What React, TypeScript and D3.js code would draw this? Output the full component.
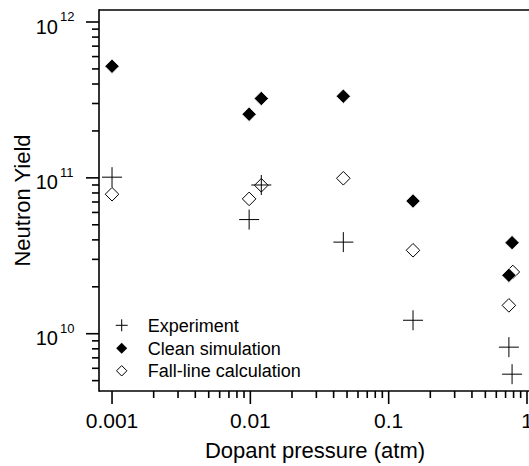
import React from "react";
import * as d3 from "d3";

const W = 529;
const H = 466;

// Data (pressure in atm, neutron yield)
const expX = [0.001, 0.0098, 0.012, 0.047, 0.15, 0.74, 0.78];
const expY = [1.01e11, 5.4e10, 9.0e10, 3.87e10, 1.22e10, 8.2e9, 5.5e9];

const cleanX = [0.001, 0.0098, 0.012, 0.047, 0.15, 0.78, 0.74];
const cleanY = [5.2e11, 2.56e11, 3.23e11, 3.34e11, 7.1e10, 3.84e10, 2.37e10];

const fallX = [0.001, 0.0098, 0.012, 0.047, 0.15, 0.79, 0.74];
const fallY = [7.85e10, 7.33e10, 8.96e10, 9.94e10, 3.43e10, 2.49e10, 1.52e10];

const xTickValues = [0.001, 0.01, 0.1, 1];
const xTickLabels = ["0.001", "0.01", "0.1", "1"];
const yTickValues = [1e10, 1e11, 1e12];
const yTickExponents = ["10", "11", "12"];

const legendLabels = ["Experiment", "Clean simulation", "Fall-line calculation"];

const xTitle = "Dopant pressure (atm)";
const yTitle = "Neutron Yield";

const FONT = "Liberation Sans, Arial, Helvetica, sans-serif";

export default function App() {
  const left = 99;
  const right = 531;
  const top = 10;
  const bottom = 391;

  const x = d3.scaleLog().domain([0.000805, 1.069]).range([left, right]);
  const y = d3.scaleLog().domain([4.29e9, 1.194e12]).range([bottom, top]);

  const xTicks = x.ticks().filter((t) => t >= 0.001 * 0.999 && t <= 1.0001);
  const yTicks = y.ticks().filter((t) => t <= 1e12 * 1.001);
  const isMajor = (t: number) => Math.abs(Math.log10(t) - Math.round(Math.log10(t))) < 1e-6;

  const plus = (cx: number, cy: number, r: number, key: string) => (
    <g key={key} stroke="#000" strokeWidth={1}>
      <line x1={cx - r} x2={cx + r} y1={cy} y2={cy} />
      <line x1={cx} x2={cx} y1={cy - r} y2={cy + r} />
    </g>
  );
  const diamond = (cx: number, cy: number, r: number) =>
    `M${cx},${cy - r}L${cx + r},${cy}L${cx},${cy + r}L${cx - r},${cy}Z`;

  const legendY = [325.3, 348.2, 370.8];
  const legMX = 121.7;
  const legTX = 147.7;

  return (
    <svg
      width={W}
      height={H}
      style={{ position: "absolute", left: 0, top: 0, background: "#fff" }}
      fontFamily={FONT}
    >
      <rect x={0} y={0} width={W} height={H} fill="#fff" />
      {/* frame */}
      <line x1={left} x2={right} y1={top} y2={top} stroke="#000" strokeWidth={1.6} />
      <line x1={right} x2={right} y1={top} y2={bottom} stroke="#000" strokeWidth={1.6} />
      <line x1={left} x2={left} y1={top - 0.8} y2={bottom + 0.8} stroke="#000" strokeWidth={1.6} />
      <line x1={left} x2={right} y1={bottom} y2={bottom} stroke="#000" strokeWidth={1.6} />

      {/* x ticks */}
      {xTicks.map((t, i) => (
        <line
          key={"xt" + i}
          x1={x(t)}
          x2={x(t)}
          y1={bottom}
          y2={bottom + (isMajor(t) ? 13 : 7)}
          stroke="#000"
          strokeWidth={1.6}
        />
      ))}
      {xTickValues.map((t, i) => (
        <text key={"xl" + i} x={x(t)} y={428} fontSize={21} textAnchor="middle" fill="#000">
          {xTickLabels[i]}
        </text>
      ))}

      {/* y ticks */}
      {yTicks.map((t, i) => (
        <line
          key={"yt" + i}
          x1={left - (isMajor(t) ? 13 : 7)}
          x2={left}
          y1={y(t)}
          y2={y(t)}
          stroke="#000"
          strokeWidth={1.6}
        />
      ))}
      {yTickValues.map((t, i) => (
        <g key={"yl" + i}>
          <text x={58} y={y(t) + 11.5} fontSize={20} textAnchor="end" fill="#000">
            10
          </text>
          <text x={60} y={y(t) - 1} fontSize={13} textAnchor="start" fill="#000">
            {yTickExponents[i]}
          </text>
        </g>
      ))}

      {/* titles */}
      <text x={(left + right) / 2} y={458} fontSize={22} textAnchor="middle" fill="#000">
        {xTitle}
      </text>
      <text
        transform={`translate(30,${(top + bottom) / 2}) rotate(-90)`}
        fontSize={22}
        textAnchor="middle"
        fill="#000"
      >
        {yTitle}
      </text>

      {/* data: fall-line (open diamonds) */}
      {fallX.map((v, i) => (
        <path
          key={"f" + i}
          d={diamond(x(v), y(fallY[i]), 6.8)}
          fill="none"
          stroke="#000"
          strokeWidth={1}
        />
      ))}
      {/* clean simulation (filled diamonds) */}
      {cleanX.map((v, i) => (
        <path
          key={"c" + i}
          d={diamond(x(v), y(cleanY[i]), 7.2)}
          fill="#000"
          stroke="#fff"
          strokeWidth={0.8}
        />
      ))}
      {/* experiment (plus) */}
      {expX.map((v, i) => plus(x(v), y(expY[i]), 10, "e" + i))}

      {/* legend */}
      {plus(legMX, legendY[0], 6, "lg0")}
      <path d={diamond(legMX, legendY[1], 5.5)} fill="#000" />
      <path d={diamond(legMX, legendY[2], 5.2)} fill="none" stroke="#000" strokeWidth={1} />
      {legendLabels.map((s, i) => (
        <text key={"lt" + i} x={legTX} y={legendY[i] + 6.5} fontSize={18} fill="#000">
          {s}
        </text>
      ))}
    </svg>
  );
}
